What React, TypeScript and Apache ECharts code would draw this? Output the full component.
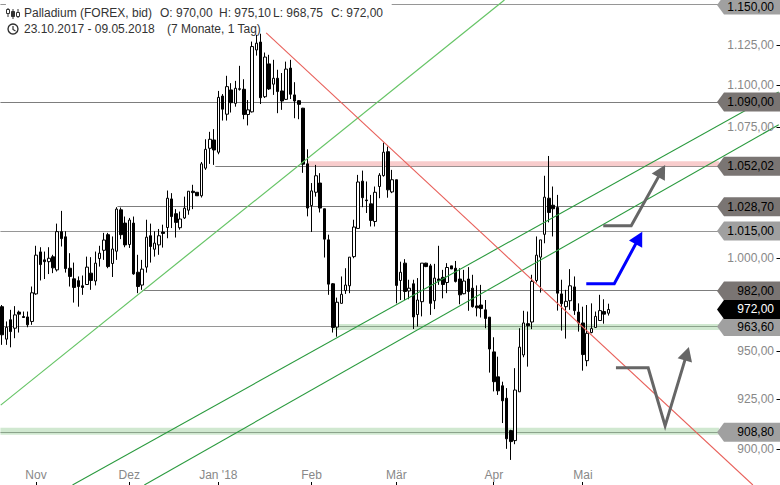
import React, { useEffect, useRef } from "react";
import * as echarts from "echarts";

// [open, high, low, close]
const candles: number[][] = [
  [973.5,974.4,953.2,958.5],[956.2,965.6,953.2,962.5],[966.5,971.8,951.9,960.2],[962,973.8,956.7,969.1],
  [970.6,971.4,959.7,969.5],[968.2,970.9,967.7,967.7],[968,970.9,962.5,963.8],[965.6,984.4,963.8,981],
  [980.4,1006.8,979.9,1001.6],[1003.4,1006,987.7,996.4],[999,1003.6,988.5,998],[998,1006,991.2,999.9],
  [1000.7,1001.8,991.7,994.6],[993.5,1019.2,992.6,1014.7],[1014.7,1026.4,1006.4,1010.8],[1011.8,1014.9,992,994.2],
  [994.4,1002.7,984.4,989.9],[988.6,997.5,975.7,983.9],[987.6,989.9,973.5,984.4],[984.8,990.4,979.9,983.9],
  [985.5,1000.8,985.3,995],[991.7,1000.5,982.6,987.7],[987.4,1003.6,985,997.2],[999.7,1006.8,995.3,1002.7],
  [1004.3,1014,999,1010],[1013,1014,994.4,995.3],[997,1012,989.6,1005],[1003.8,1028.5,999,1027.4],
  [1027,1028.3,1010.5,1013],[1019.5,1023.2,1006,1007.3],[1007.5,1022.4,1005.6,1021.2],[1019.5,1023.2,990.8,991.3],
  [992.2,1001.8,980.8,984.4],[985.2,999,982.6,993.9],[995,1021.4,992,1011.6],[1012.4,1019.2,997.5,1006.4],
  [1004.9,1014.9,1000.8,1008.3],[1007.3,1016.2,1001.8,1012.4],[1014.5,1018.6,1005.8,1013.7],[1017,1038,1011,1033.6],
  [1033.2,1036.5,1016.7,1023.2],[1024.8,1027.4,1011.4,1019.9],[1016.9,1026,1015.8,1021.8],[1022.4,1034.5,1021.8,1027.9],
  [1026.8,1037.6,1024.2,1037.6],[1037.6,1041.3,1027.4,1036.8],[1037,1037,1035,1035],[1035,1054.5,1034,1053.4],
  [1050.9,1067.8,1049.9,1061.9],[1062.5,1072.2,1053.4,1067.8],[1067.4,1073.8,1052.8,1061.5],[1060.2,1096.7,1059,1092.8],
  [1093.6,1094.8,1078.9,1085.7],[1082.7,1105.9,1078.9,1099.3],[1097.3,1101.4,1083.7,1089.6],[1089.2,1102.8,1087.2,1098.3],
  [1098,1112,1096.9,1097.7],[1097.7,1103.8,1079.7,1082.5],[1082.5,1091.2,1076,1085.3],[1084.1,1127,1083.7,1123.9],
  [1121.8,1131.2,1118.3,1126],[1126.7,1131.9,1088.8,1092.6],[1093.2,1120.2,1092.4,1117.4],[1113.2,1118.8,1097.3,1097.9],
  [1100.8,1115.7,1094.3,1104.4],[1104.4,1109.6,1083.3,1096.3],[1096.7,1107.6,1085.3,1090.6],[1091.6,1114.6,1091.2,1110],
  [1110.6,1115.7,1091.8,1094.7],[1094.3,1102,1080.3,1090.6],[1090.8,1091.2,1079.7,1088.6],[1086.3,1086.5,1048.2,1053.2],
  [1053.4,1061.9,1023.3,1028],[1029.4,1042.3,1014.5,1037.8],[1037,1052.8,1034.5,1046.5],[1042.3,1048,1025.5,1028],
  [1027.6,1027.6,1000.3,1010.5],[1010.1,1013,979.9,985.7],[985.9,986.3,959.7,962.4],[962.6,978.4,957.5,975.9],
  [975.3,989.9,975.3,980.2],[982.2,994.4,980.4,985.2],[984.8,1000.5,980.8,1000.5],[1000.8,1021.4,999.9,1017.3],
  [1016.5,1047,1016.5,1042.9],[1043.4,1049.5,1028.5,1033.9],[1032.6,1043.2,1025.2,1032.2],[1030.4,1035.5,1017.6,1021],
  [1020.4,1040.3,1017.6,1037],[1040.3,1048,1033.6,1046.8],[1046.6,1065.8,1046,1060.2],[1060.5,1063.5,1033.9,1038.4],
  [1037.2,1049.9,1036.5,1044.2],[1044.2,1044.2,975.3,985],[987.7,998,977.1,992.2],[997.2,999.4,977.1,981.7],
  [982,988.1,977.5,983.5],[985.9,988.1,961.6,968],[969.3,989,962.9,977.1],[976.2,997.2,968.3,997.2],
  [997.2,997.4,995,995.3],[995.7,996.8,969.1,975.3],[976.7,996.8,972.2,989],[988.5,1006.8,985.3,987.6],
  [989.4,993.5,978,985.5],[986.6,997.2,980.8,994.8],[995.7,995.7,994,994],[994.4,998.4,986.6,987.2],
  [988.5,994.4,974.8,979.9],[980.5,993.5,980.2,987.4],[988.5,995,971.3,981.7],[983.5,990.8,973,973.5],
  [973.9,985,968.3,972.9],[974.4,985.3,967.7,972.5],[971.8,977.1,962,967.2],[967.9,967.9,938.7,951],
  [949.5,957.2,929,934],[936.5,947,927.2,929.3],[931.9,934,912.9,924.2],[925.5,930.7,900,905],
  [909.1,909.5,894.5,903.6],[904.1,941,902.3,929.7],[928.8,962,928.8,952],[947.9,971.3,946.7,964.8],
  [964.4,970.9,941.8,963.3],[965.3,990.8,961.5,987.2],[987.7,1012,986.6,1001.6],[1000.5,1010.1,981.1,1010.1],
  [1013.2,1046.5,1008.2,1034.2],[1033.6,1058,1019.9,1025.5],[1029.6,1040.3,1012,1027.6],[1028.3,1035.5,971.4,980.8],
  [980.4,988.1,960.7,975.1],[973.5,982.6,956.5,976.4],[976.7,993.9,971.8,984.8],[984.2,989.9,969.1,971.4],
  [970.6,975.3,960.2,964.8],[964.8,973.5,939.7,948.1],[944.9,974.4,942,959.3],[959.7,975.3,959.3,961.8],
  [962.4,970.9,962.4,968.3],[966.1,979.9,966.1,971.4],[970.9,977.5,964.4,969.5],[970,975.1,968.75,972],
];

const monthIndices = [8, 30, 51, 73, 93, 116, 137];
const monthLabels = ["Nov", "Dez", "Jan '18", "Feb", "Mär", "Apr", "Mai"];

const tickValues = [1125, 1100, 1075, 1000, 950, 925, 900];
const tickLabels = ["1.125,00", "1.100,00", "1.075,00", "1.000,00", "950,00", "925,00", "900,00"];

const levelPrices = [1150, 1090, 1052.02, 1028.7, 1015, 982, 962.9, 908.3];
const levelTexts = ["1.150,00", "1.090,00", "1.052,02", "1.028,70", "1.015,00", "982,00", "963,60", "908,80"];
const levelStartIdx = [91.9, -0.4, 50.3, 27.2, -0.4, 33.1, -0.4, -0.4];
const levelEndIdx = 169.1;
const topStubEndIdx = 0.9;
const lastPrice = 972;
const lastText = "972,00";

// [start index, end index, upper price, lower price]
const pinkZone = [72, 169.1, 1054.9, 1052];
const greenZones = [
  [78, 169.1, 964.3, 961.1],
  [-0.4, 169.1, 910.5, 907],
];

// [[index, price], [index, price]]
const redLine = [[62.3, 1132.4], [177.1, 882.2]];
const lightGreenLine = [[-0.33, 922], [118.5, 1153.2]];
const greenLineUpper = [[16.6, 882.2], [183.2, 1096.1]];
const greenLineLower = [[33.55, 882.2], [183.2, 1076.4]];

const arrowGreyUpper = [[141.8, 1018], [148.4, 1018], [156.4, 1052.8]];
const arrowBlue = [[137.8, 985.9], [144.4, 985.9], [151, 1014.6]];
const arrowGreyLower = [[144.8, 941.2], [152.4, 941.2], [156.4, 911.5], [162, 952.1]];

const titleHead = "Palladium (FOREX, bid)";
const titleO = "O: 970,00";
const titleH = "H: 975,10";
const titleL = "L: 968,75";
const titleC = "C: 972,00";
const titleRange = "23.10.2017 - 09.05.2018";
const titleSpan = "(7 Monate, 1 Tag)";

const FONT = '12px "Liberation Sans", Arial, sans-serif';
const CATEGORY_COUNT = 184;
const DARK_TAG = "#7a7573";
const LIGHT_TAG = "#a0a0a0";
const TAG_DARK_SET = [false, true, true, true, false, true, false, false];

function lineSeries(data: number[][], color: string, width: number, z: number) {
  return {
    type: "line", xAxisIndex: 1, yAxisIndex: 0, data, symbol: "none", silent: true, z,
    lineStyle: { color, width }, clip: true,
  };
}

function levelSeries(segments: number[][]) {
  return {
    type: "custom", xAxisIndex: 1, yAxisIndex: 0, z: 1, silent: true, clip: false,
    data: segments.map((s) => [s[0], s[2]]),
    renderItem: (p: any, api: any) => {
      const s = segments[p.dataIndex];
      const a = api.coord([s[0], s[2]]);
      const b = api.coord([s[1], s[2]]);
      const y = Math.floor(a[1]) + 0.5;
      return {
        type: "line",
        shape: { x1: a[0], y1: y, x2: b[0], y2: y },
        style: { stroke: s[3] ? "#7d7d7d" : "#969696", lineWidth: 1 },
      };
    },
  };
}

function arrowSeries(points: number[][], color: string) {
  return {
    type: "custom", xAxisIndex: 1, yAxisIndex: 0, z: 7, silent: true, clip: false,
    data: [points[0]],
    renderItem: (_p: any, api: any) => {
      const pts = points.map((q) => api.coord(q));
      const tip = pts[pts.length - 1];
      const prev = pts[pts.length - 2];
      const dx = tip[0] - prev[0];
      const dy = tip[1] - prev[1];
      const len = Math.hypot(dx, dy);
      const ux = dx / len;
      const uy = dy / len;
      const bx = tip[0] - ux * 14;
      const by = tip[1] - uy * 14;
      const shaft = pts.slice(0, -1).concat([[tip[0] - ux * 8, tip[1] - uy * 8]]);
      return {
        type: "group",
        children: [
          { type: "polyline", shape: { points: shaft }, style: { stroke: color, lineWidth: 3, fill: "none" } },
          {
            type: "polygon",
            shape: { points: [tip, [bx - uy * 7.5, by + ux * 7.5], [bx + uy * 7.5, by - ux * 7.5]] },
            style: { fill: color },
          },
        ],
      };
    },
  };
}

function zoneSeries(zones: number[][], fill: string, z: number) {
  return {
    type: "custom", xAxisIndex: 1, yAxisIndex: 0, z, silent: true, clip: false,
    data: zones.map((r) => [r[0], r[2]]),
    renderItem: (p: any, api: any) => {
      const r = zones[p.dataIndex];
      const a = api.coord([r[0], r[2]]);
      const b = api.coord([r[1], r[3]]);
      return { type: "rect", shape: { x: a[0], y: a[1], width: b[0] - a[0], height: b[1] - a[1] }, style: { fill } };
    },
  };
}

function tagItem(y: number, text: string, fill: string, textFill: string) {
  const h = 9.5;
  return {
    type: "group",
    children: [
      {
        type: "polygon",
        shape: { points: [[717, y], [724, y - h], [780, y - h], [780, y + h], [724, y + h]] },
        style: { fill },
      },
      {
        type: "text",
        style: { text, x: 774, y: Math.max(y, 6.5), fill: textFill, font: FONT, align: "right", verticalAlign: "middle" },
      },
    ],
  };
}

function App() {
  const ref = useRef<HTMLDivElement>(null);

  useEffect(() => {
    document.body.style.margin = "0";
    const chart = echarts.init(ref.current!, null, { renderer: "svg" });
    const categories = Array.from({ length: CATEGORY_COUNT }, (_, i) => {
      const m = monthIndices.indexOf(i);
      return m >= 0 ? monthLabels[m] : "";
    });
    const showMonth = (i: number) => monthIndices.indexOf(i) >= 0;
    const segments = levelPrices.map((price, i) => [levelStartIdx[i], levelEndIdx, price, TAG_DARK_SET[i] ? 1 : 0]);
    segments.push([-0.4, topStubEndIdx, levelPrices[0], 0]);
    const option: any = {
      animation: false,
      backgroundColor: "#fff",
      grid: { left: -0.725, top: 0, width: 782, height: 485, containLabel: false },
      xAxis: [
        {
          type: "category",
          data: categories,
          axisLine: { show: false },
          axisTick: { show: false },
          axisLabel: { show: true, inside: true, interval: showMonth, margin: 4, color: "#888", fontFamily: "Liberation Sans", fontSize: 12, hideOverlap: false },
          splitLine: { show: false },
        },
        { type: "value", show: false, min: -0.5, max: 183.5, splitLine: { show: false } },
      ],
      yAxis: [
        {
          type: "log",
          logBase: 10,
          min: 882.2,
          max: 1153.18,
          axisLine: { show: false },
          axisTick: { show: false },
          axisLabel: { show: false },
          splitLine: { show: false },
          minorTick: { show: false },
        },
      ],
      graphic: [
        { type: "line", z: 20, shape: { x1: 8, y1: 8, x2: 8, y2: 17 }, style: { stroke: "#333", lineWidth: 1 } },
        { type: "rect", z: 20, shape: { x: 6.5, y: 9.5, width: 3, height: 4 }, style: { fill: "#fff", stroke: "#333", lineWidth: 1 } },
        { type: "line", z: 20, shape: { x1: 13, y1: 9, x2: 13, y2: 19 }, style: { stroke: "#333", lineWidth: 1 } },
        { type: "rect", z: 20, shape: { x: 11.5, y: 11.5, width: 3, height: 5 }, style: { fill: "#333", stroke: "#333", lineWidth: 1 } },
        { type: "line", z: 20, shape: { x1: 18, y1: 9, x2: 18, y2: 18 }, style: { stroke: "#333", lineWidth: 1 } },
        { type: "rect", z: 20, shape: { x: 16.5, y: 12.5, width: 3, height: 4 }, style: { fill: "#fff", stroke: "#333", lineWidth: 1 } },
        { type: "circle", z: 20, shape: { cx: 13, cy: 29, r: 5 }, style: { fill: "#fff", stroke: "#333", lineWidth: 1.4 } },
        { type: "polyline", z: 20, shape: { points: [[13, 26], [13, 29.5], [15.5, 31]] }, style: { fill: "none", stroke: "#333", lineWidth: 1.2 } },
        ...[
          [titleHead, 24, 13],
          [titleO, 160, 13],
          [titleH, 219, 13],
          [titleL, 273, 13],
          [titleC, 331, 13],
          [titleRange, 24, 29],
          [titleSpan, 167, 29],
        ].map(([text, x, y]) => ({
          type: "text",
          z: 20,
          style: { text, x, y, fill: "#333", font: FONT, align: "left", verticalAlign: "middle" },
        })),
      ],
      series: [
        levelSeries(segments),
        zoneSeries([pinkZone], "#f8cccc", 1),
        zoneSeries(greenZones, "rgba(120,190,120,0.35)", 2),
        {
          type: "candlestick",
          xAxisIndex: 0,
          yAxisIndex: 0,
          z: 3,
          silent: true,
          barWidth: 3,
          data: candles.map((c) => [c[0], c[3], c[2], c[1]]),
          itemStyle: {
            color: "#fff",
            color0: "#000",
            borderColor: "#000",
            borderColor0: "#000",
            borderColorDoji: "#000",
            borderWidth: 1,
          },
        },
        lineSeries(lightGreenLine, "#66c466", 1.2, 4),
        lineSeries(greenLineUpper, "#2a9a3e", 1.1, 4),
        lineSeries(greenLineLower, "#2a9a3e", 1.1, 4),
        lineSeries(redLine, "#e8605a", 1.1, 4),
        arrowSeries(arrowGreyUpper, "#666666"),
        arrowSeries(arrowBlue, "#0000ff"),
        arrowSeries(arrowGreyLower, "#666666"),
        {
          type: "custom", xAxisIndex: 0, yAxisIndex: 0, z: 8, silent: true, clip: false,
          data: monthIndices.map((i) => [i, 900]),
          renderItem: (p: any, api: any) => {
            const x = Math.floor(api.coord([monthIndices[p.dataIndex], 900])[0]) + 0.5;
            return { type: "line", shape: { x1: x, y1: 482, x2: x, y2: 485 }, style: { stroke: "#000", lineWidth: 1 } };
          },
        },
        {
          type: "custom", xAxisIndex: 1, yAxisIndex: 0, z: 8, silent: true, clip: false,
          data: tickValues.map((v) => [183, v]),
          renderItem: (p: any, api: any) => {
            const y = api.coord([183, tickValues[p.dataIndex]])[1];
            return {
              type: "group",
              children: [
                { type: "line", shape: { x1: 776.5, y1: Math.round(y) + 0.5, x2: 780, y2: Math.round(y) + 0.5 }, style: { stroke: "#000", lineWidth: 1 } },
                { type: "text", style: { text: tickLabels[p.dataIndex], x: 774, y, fill: "#888", font: FONT, align: "right", verticalAlign: "middle" } },
              ],
            };
          },
        },
        {
          type: "custom", xAxisIndex: 1, yAxisIndex: 0, z: 9, silent: true, clip: false,
          data: levelPrices.map((v) => [183, v]),
          renderItem: (p: any, api: any) => {
            const y = api.coord([183, levelPrices[p.dataIndex]])[1];
            return tagItem(y, levelTexts[p.dataIndex], TAG_DARK_SET[p.dataIndex] ? DARK_TAG : LIGHT_TAG, "#000");
          },
        },
        {
          type: "custom", xAxisIndex: 1, yAxisIndex: 0, z: 10, silent: true, clip: false,
          data: [[183, lastPrice]],
          renderItem: (_p: any, api: any) => tagItem(api.coord([183, lastPrice])[1], lastText, "#000", "#fff"),
        },
      ],
    };
    chart.setOption(option);
    return () => chart.dispose();
  }, []);

  return <div ref={ref} style={{ width: 780, height: 485 }} />;
}

export default App;
